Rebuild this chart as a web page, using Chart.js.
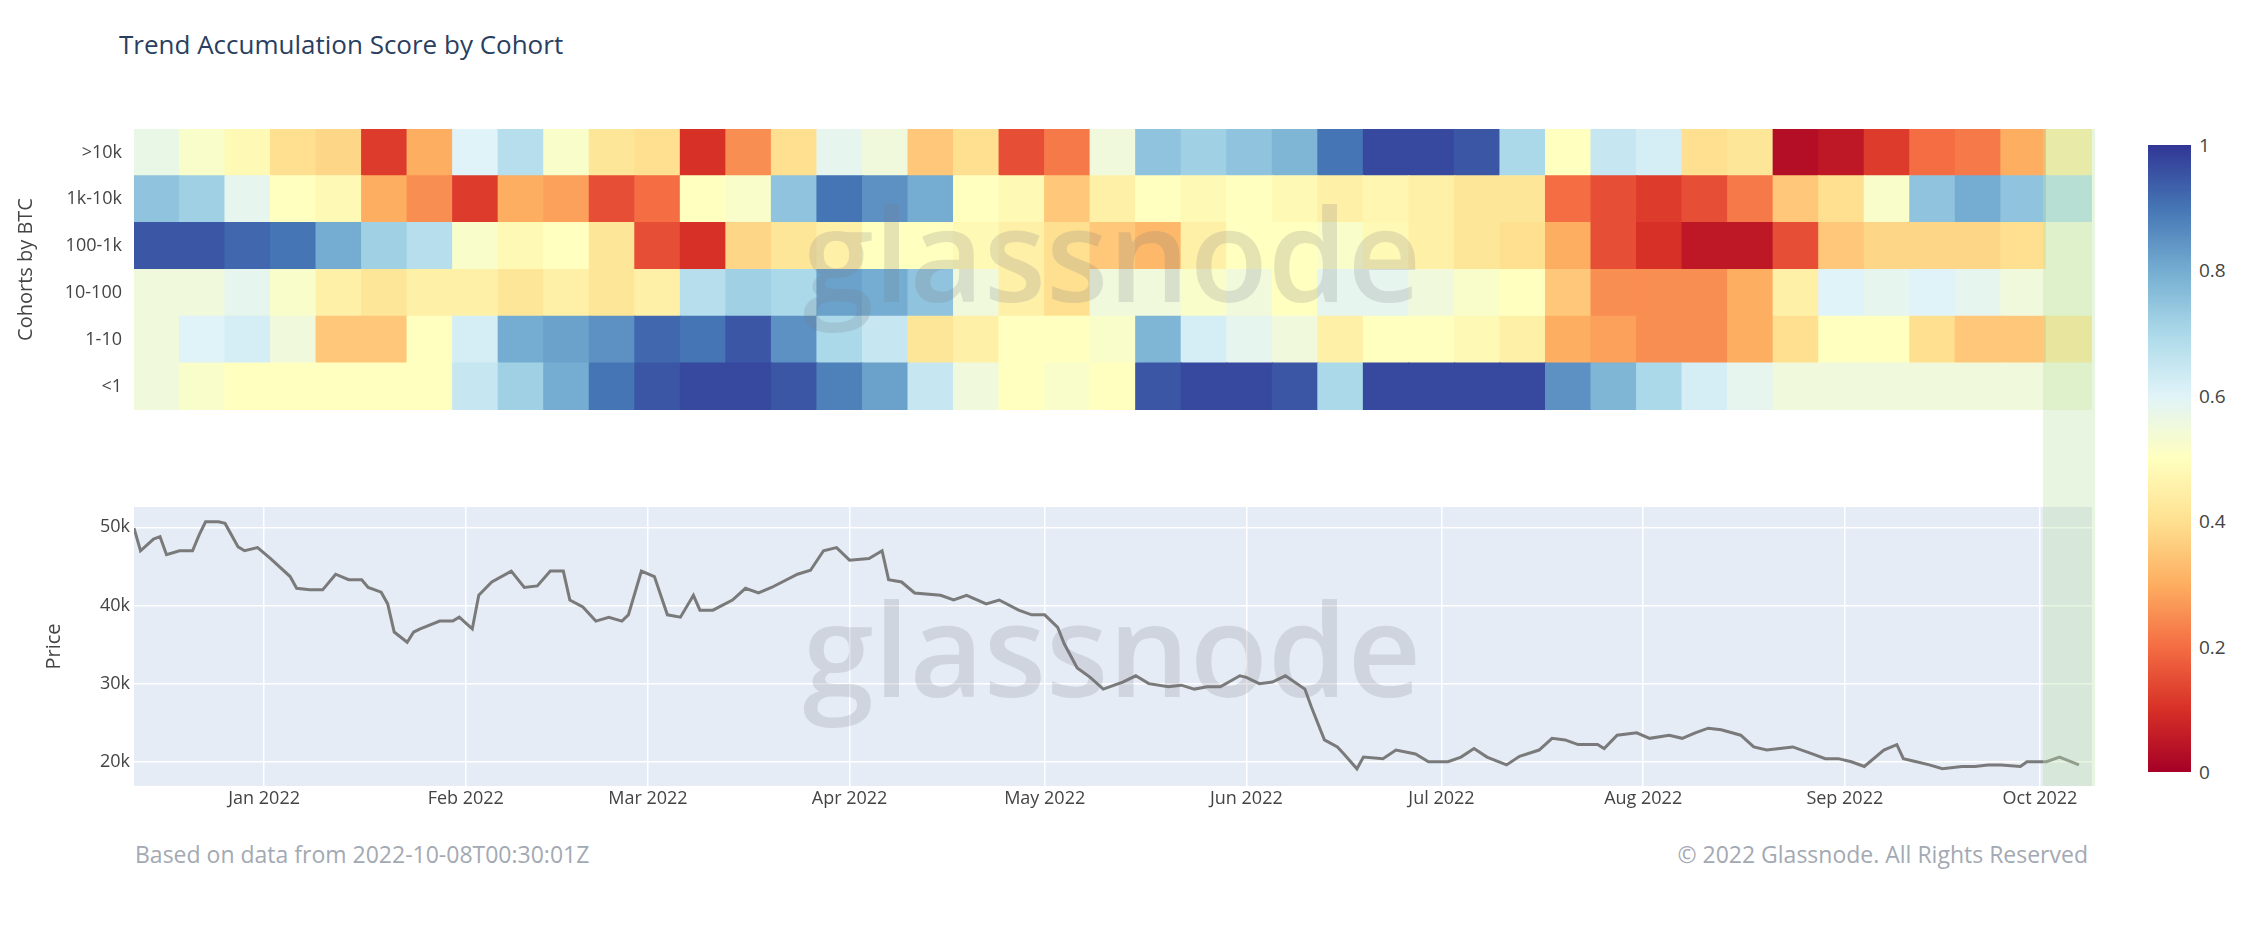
<!DOCTYPE html>
<html>
<head>
<meta charset="utf-8">
<script src="https://cdn.jsdelivr.net/npm/chart.js@4.4.0/dist/chart.umd.min.js"></script>
<style>
  body { margin: 0; width: 2253px; height: 946px; background: #fff; font-family: "Open Sans", sans-serif; position: relative; overflow: hidden; }
  canvas { position: absolute; left: 0; }
  .txt { position: absolute; white-space: nowrap; }
  .wm { position: absolute; font-size: 128px; font-weight: 600; color: rgba(120,120,130,0.2); transform: translate(-50%, -50%); pointer-events: none; }
  .cb { position: absolute; font-size: 19px; color: #444; transform: translateY(-50%); }
</style>
</head>
<body>
<div class="txt" style="left:119px;top:26px;font-size:26px;color:#2a3f5f;">Trend Accumulation Score by Cohort</div>
<canvas id="heat" width="2100" height="330" style="top:100px;width:2100px;height:330px"></canvas>
<canvas id="price" width="2100" height="330" style="top:480px;width:2100px;height:330px"></canvas>
<div style="position:absolute;left:2043px;top:129px;width:52px;height:657px;background:rgba(190,225,170,0.35);"></div>
<div class="wm" style="left:1112px;top:252px;">glassnode</div>
<div class="wm" style="left:1112px;top:647px;">glassnode</div>
<div id="colorbar" style="position:absolute;left:2148px;top:145px;width:43px;height:627px;"></div>
<div class="txt" style="left:135px;top:838px;font-size:23px;color:#a3a9b3;">Based on data from 2022-10-08T00:30:01Z</div>
<div class="txt" style="right:165px;top:838px;font-size:23px;color:#a3a9b3;">© 2022 Glassnode. All Rights Reserved</div>
<script>
// cohorts, bottom row first
var cohorts = ['<1', '1-10', '10-100', '100-1k', '1k-10k', '>10k'];
// weekly columns starting 2021-12-12
var weeks = [];
for (var w = 0; w < 43; w++) weeks.push(w);

var scoreLt1 = [0.55,0.52,0.5,0.5,0.5,0.5,0.5,0.65,0.72,0.8,0.9,0.95,0.97,0.97,0.95,0.88,0.82,0.65,0.55,0.5,0.52,0.5,0.95,0.97,0.97,0.95,0.7,0.97,0.97,0.97,0.97,0.85,0.78,0.7,0.62,0.58,0.55,0.55,0.55,0.55,0.55,0.55,0.55];
var score1_10 = [0.55,0.6,0.62,0.55,0.35,0.35,0.5,0.62,0.8,0.82,0.85,0.92,0.9,0.95,0.85,0.7,0.65,0.42,0.45,0.5,0.5,0.52,0.78,0.62,0.58,0.55,0.45,0.5,0.5,0.48,0.45,0.3,0.28,0.25,0.25,0.3,0.4,0.5,0.5,0.4,0.35,0.35,0.42];
var score10_100 = [0.55,0.55,0.58,0.52,0.45,0.42,0.45,0.45,0.42,0.45,0.42,0.45,0.68,0.72,0.7,0.82,0.8,0.75,0.55,0.45,0.4,0.55,0.55,0.52,0.55,0.5,0.58,0.58,0.55,0.52,0.5,0.35,0.25,0.25,0.25,0.3,0.45,0.6,0.58,0.6,0.58,0.55,0.55];
var score100_1k = [0.95,0.95,0.92,0.9,0.8,0.72,0.68,0.52,0.48,0.5,0.42,0.15,0.1,0.38,0.42,0.45,0.5,0.5,0.48,0.45,0.4,0.35,0.32,0.45,0.5,0.5,0.52,0.48,0.45,0.42,0.4,0.3,0.15,0.1,0.05,0.05,0.15,0.35,0.38,0.38,0.38,0.4,0.55];
var score1k_10k = [0.75,0.72,0.58,0.5,0.48,0.3,0.25,0.12,0.3,0.28,0.15,0.2,0.5,0.52,0.75,0.9,0.85,0.8,0.5,0.48,0.35,0.45,0.5,0.48,0.5,0.48,0.45,0.47,0.45,0.42,0.42,0.2,0.15,0.12,0.15,0.22,0.35,0.4,0.52,0.75,0.8,0.75,0.68];
var scoreGt10k = [0.57,0.52,0.48,0.4,0.38,0.12,0.3,0.6,0.68,0.52,0.42,0.4,0.1,0.25,0.4,0.58,0.55,0.35,0.4,0.15,0.22,0.55,0.75,0.72,0.75,0.78,0.9,0.97,0.97,0.95,0.7,0.5,0.65,0.62,0.4,0.42,0.03,0.05,0.12,0.2,0.22,0.3,0.45];
var scores = [scoreLt1, score1_10, score10_100, score100_1k, score1k_10k, scoreGt10k];

// price: day offset from 2021-12-12 and value
var priceDays = [0,1,3,4,5,7,9,10,11,13,14,16,17,19,21,24,25,27,29,31,33,35,36,38,39,40,42,43,44,47,49,50,52,53,55,58,60,62,64,66,67,69,71,73,75,76,78,80,82,84,86,87,89,92,94,96,98,102,104,106,108,110,113,115,116,118,120,124,126,128,131,133,136,138,140,142,143,145,147,149,152,154,156,159,161,163,165,167,170,171,173,175,177,180,181,183,185,186,188,189,192,194,197,199,202,204,206,208,211,213,216,218,220,222,225,226,228,231,233,236,238,240,242,244,247,249,251,253,255,258,260,262,264,266,269,271,272,274,276,278,281,283,285,287,290,291,294,296,299];
var priceValues = [49900,47000,48500,48800,46500,47000,47000,49000,50700,50700,50500,47500,47000,47400,46000,43700,42200,42000,42000,44000,43300,43300,42300,41700,40200,36600,35300,36600,37000,38000,38000,38500,37000,41300,43000,44400,42300,42500,44400,44400,40700,39800,38000,38500,38000,38800,44400,43700,38800,38500,41300,39400,39400,40700,42200,41600,42300,44000,44500,47000,47400,45800,46000,47000,43300,43000,41600,41300,40700,41300,40200,40700,39400,38800,38800,37200,35100,32000,30800,29300,30200,31000,30000,29600,29800,29300,29600,29600,31000,30800,30000,30200,31000,29300,27000,22800,21900,21000,19100,20600,20400,21500,21000,20000,20000,20600,21700,20600,19600,20700,21500,23000,22800,22200,22200,21700,23400,23700,23000,23400,23000,23700,24300,24100,23400,21900,21500,21700,21900,21000,20400,20400,20000,19400,21500,22200,20400,20000,19600,19100,19400,19400,19600,19600,19400,20000,20000,20600,19600];
var monthDays = [20, 51, 79, 110, 140, 171, 201, 232, 263, 293];
var monthLabels = ['Jan 2022','Feb 2022','Mar 2022','Apr 2022','May 2022','Jun 2022','Jul 2022','Aug 2022','Sep 2022','Oct 2022'];
var priceTicks = [20000, 30000, 40000, 50000];
var colorTicks = [0, 0.2, 0.4, 0.6, 0.8, 1];

var stops = ['#a50026','#d73027','#f46d43','#fdae61','#fee090','#ffffbf','#e0f3f8','#abd9e9','#74add1','#4575b4','#313695'];
function hex(c) { return [parseInt(c.substr(1,2),16), parseInt(c.substr(3,2),16), parseInt(c.substr(5,2),16)]; }
function colorOf(v) {
    var p = Math.max(0, Math.min(1, v)) * 10, i = Math.min(9, Math.floor(p)), t = p - i;
    var a = hex(stops[i]), b = hex(stops[i + 1]);
    return 'rgb(' + [0,1,2].map(function (k) { return Math.round(a[k] + (b[k] - a[k]) * t); }).join(',') + ')';
}

Chart.defaults.font.family = '"Open Sans", sans-serif';
Chart.defaults.color = '#444';
Chart.defaults.animation = false;

new Chart(document.getElementById('heat'), {
    type: 'bar',
    data: {
        labels: weeks,
        datasets: scores.map(function (row, r) {
            return {
                data: row.map(function () { return [r, r + 1]; }),
                backgroundColor: row.map(colorOf),
                borderWidth: 0,
                inflateAmount: 0.6,
                grouped: false,
                barPercentage: 1,
                categoryPercentage: 1
            };
        })
    },
    options: {
        responsive: false,
        layout: { padding: { top: 29, bottom: 20, right: 8 } },
        plugins: { legend: { display: false }, tooltip: { enabled: false } },
        scales: {
            x: { display: false },
            y: {
                min: 0, max: 6,
                afterFit: function (s) { s.width = 134; },
                afterBuildTicks: function (s) { s.ticks = cohorts.map(function (c, i) { return { value: i + 0.5 }; }); },
                ticks: { font: { size: 18 }, padding: 4, callback: function (v) { return cohorts[Math.floor(v)]; } },
                grid: { display: false },
                border: { display: false },
                title: { display: true, text: 'Cohorts by BTC', font: { size: 20 }, padding: { top: 14, bottom: 6 } }
            }
        }
    }
});

var plotBg = {
    id: 'plotBg',
    beforeDraw: function (chart) {
        var a = chart.chartArea, c = chart.ctx;
        c.save(); c.fillStyle = '#e5ecf6'; c.fillRect(a.left, a.top, a.right - a.left, a.bottom - a.top); c.restore();
    }
};

new Chart(document.getElementById('price'), {
    type: 'line',
    data: {
        datasets: [{
            data: priceDays.map(function (d, i) { return { x: d, y: priceValues[i] }; }),
            borderColor: '#7a7a7a',
            borderWidth: 3,
            pointRadius: 0,
            tension: 0
        }]
    },
    options: {
        responsive: false,
        layout: { padding: { top: 27, right: 8 } },
        plugins: { legend: { display: false }, tooltip: { enabled: false } },
        scales: {
            x: {
                type: 'linear', min: 0, max: 301,
                afterFit: function (s) { s.height = 24; },
                afterBuildTicks: function (s) { s.ticks = monthDays.map(function (d) { return { value: d }; }); },
                ticks: { font: { size: 18 }, padding: 2, maxRotation: 0, callback: function (v) { return monthLabels[monthDays.indexOf(v)]; } },
                grid: { color: '#ffffff', lineWidth: 1.5, drawTicks: false },
                border: { display: false }
            },
            y: {
                min: 16900, max: 52600,
                afterFit: function (s) { s.width = 134; },
                afterBuildTicks: function (s) { s.ticks = priceTicks.map(function (v) { return { value: v }; }); },
                ticks: { font: { size: 18 }, padding: 4, callback: function (v) { return (v / 1000) + 'k'; } },
                grid: { color: '#ffffff', lineWidth: 1.5, drawTicks: false },
                border: { display: false },
                title: { display: true, text: 'Price', font: { size: 20 }, padding: { top: 42, bottom: 20 } }
            }
        }
    },
    plugins: [plotBg]
});

// colour bar
var cb = document.getElementById('colorbar');
cb.style.background = 'linear-gradient(to top,' + stops.join(',') + ')';
colorTicks.forEach(function (v) {
    var d = document.createElement('div');
    d.className = 'cb';
    d.style.left = '2199px';
    d.style.top = (772 - v * 627) + 'px';
    d.textContent = String(v);
    document.body.appendChild(d);
});
</script>
</body>
</html>
